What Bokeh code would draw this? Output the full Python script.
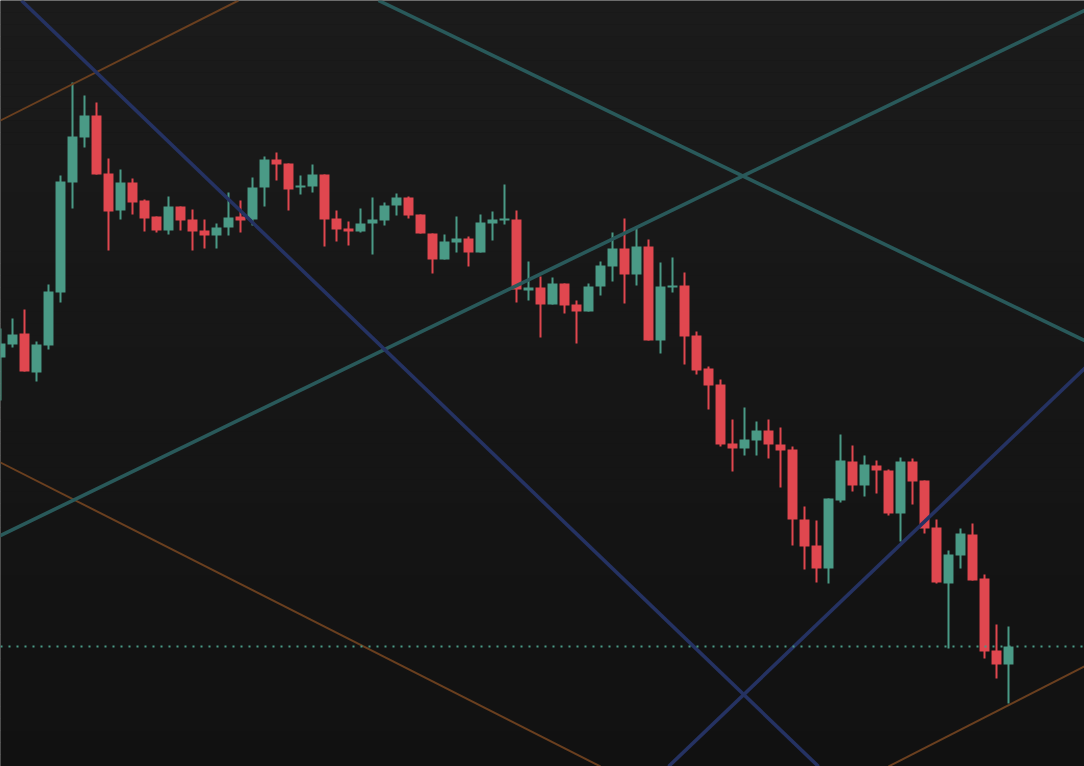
import numpy as np
from bokeh.plotting import figure
from bokeh.models import Range1d, Slope, Span, ColumnDataSource
from bokeh.embed import file_html
from bokeh.resources import INLINE

# ---- data (candle index, OHLC) ----
opens = [64.3, 65.6, 66.7, 62.8, 65.5, 70.8, 81.8, 86.3, 88.5, 82.7,
         79.0, 81.8, 80.0, 78.4, 77.0, 79.4, 78.1, 77.0, 76.5, 77.3,
         78.4, 78.1, 81.3, 84.1, 83.7, 81.3, 81.4, 82.6, 78.2, 77.2,
         76.9, 77.7, 78.0, 79.5, 80.3, 78.6, 76.7, 74.1, 75.8, 76.2,
         74.8, 77.7, 78.0, 78.1, 71.0, 71.3, 69.6, 71.7, 69.6, 68.9,
         71.4, 73.4, 75.2, 72.6, 75.4, 66.0, 71.3, 71.5, 66.5, 63.2,
         61.6, 55.7, 55.2, 56.0, 57.0, 55.6, 55.1, 48.1, 45.5, 43.2,
         50.0, 53.9, 51.5, 53.5, 53.0, 48.7, 53.9, 52.0, 47.3, 41.7,
         44.5, 46.6, 42.2, 35.0, 33.6]
highs = [67.2, 68.2, 69.1, 65.9, 71.6, 82.5, 91.8, 90.5, 89.8, 84.2,
         83.1, 82.2, 80.1, 78.4, 80.4, 79.4, 79.1, 78.1, 77.7, 80.8,
         80.0, 82.3, 84.4, 84.8, 83.7, 82.5, 83.6, 82.6, 79.0, 77.9,
         79.2, 80.3, 79.8, 80.7, 80.4, 78.6, 76.7, 76.6, 78.4, 76.4,
         78.6, 78.9, 81.6, 79.0, 73.9, 72.4, 72.3, 71.7, 70.0, 71.7,
         73.9, 76.8, 78.2, 77.4, 76.1, 73.8, 74.3, 72.8, 66.9, 63.4,
         62.1, 58.1, 59.3, 57.9, 58.1, 57.3, 55.4, 49.4, 48.0, 50.2,
         56.6, 55.5, 54.5, 54.0, 53.1, 54.3, 54.2, 52.0, 48.1, 45.0,
         47.2, 47.7, 42.6, 37.6, 37.4]
lows = [60.0, 65.3, 62.9, 61.9, 65.1, 69.8, 79.2, 85.3, 82.6, 75.0,
        78.1, 78.6, 76.9, 76.8, 76.6, 77.0, 75.0, 75.2, 75.2, 76.5,
        76.8, 77.5, 79.4, 82.0, 79.0, 80.6, 80.8, 75.4, 75.9, 75.5,
        76.8, 74.6, 77.5, 78.5, 78.2, 76.7, 72.7, 74.1, 74.8, 73.4,
        74.8, 76.0, 77.6, 69.8, 70.0, 66.3, 69.6, 68.7, 65.7, 68.9,
        70.5, 71.9, 69.7, 71.5, 66.0, 64.7, 70.8, 63.6, 62.6, 59.1,
        55.4, 52.9, 54.5, 54.5, 54.2, 51.3, 45.5, 43.1, 41.8, 41.7,
        49.8, 50.9, 50.4, 50.7, 48.5, 45.9, 49.6, 46.7, 41.7, 35.2,
        43.2, 42.0, 34.2, 32.2, 29.7]
closes = [65.7, 66.6, 62.9, 65.6, 70.9, 81.9, 86.4, 88.5, 82.6, 78.9,
          81.8, 79.8, 78.2, 77.0, 79.4, 78.0, 76.9, 76.5, 77.3, 78.3,
          78.0, 81.3, 84.1, 83.6, 81.1, 81.5, 82.6, 78.1, 77.1, 76.9,
          77.7, 78.1, 79.5, 80.3, 78.5, 76.7, 74.1, 75.9, 76.2, 74.8,
          77.8, 78.1, 78.2, 71.1, 71.3, 69.6, 71.7, 69.5, 68.9, 71.4,
          73.5, 75.2, 72.6, 75.4, 66.0, 71.4, 71.5, 66.4, 63.0, 61.5,
          55.6, 55.2, 56.1, 57.0, 55.6, 55.0, 48.1, 45.4, 43.2, 50.2,
          54.0, 51.5, 53.6, 53.0, 48.7, 53.9, 51.9, 47.2, 41.8, 44.6,
          46.7, 42.0, 34.9, 33.6, 35.4]

# trend lines: (index1, price1, index2, price2)
navy_lines = [(1.75, 100.0, 68.17, 23.4), (55.67, 23.4, 90.33, 63.2)]
teal_lines = [(31.5, 100.0, 90.33, 66.0), (0.0, 46.5, 90.33, 99.0)]
brown_lines = [(0.0, 88.0, 19.83, 100.0), (0.0, 53.8, 50.0, 23.4), (74.0, 23.4, 90.33, 33.4)]

UP = "#4a9a86"
DOWN = "#e0474f"

W, H = 1084, 766
x_lo, x_hi = 0.0, 90.333
y_lo, y_hi = 23.4, 100.0

p = figure(width=W, height=H, output_backend="svg", toolbar_location=None,
           x_range=Range1d(x_lo, x_hi), y_range=Range1d(y_lo, y_hi),
           x_axis_location=None, y_axis_location=None, min_border=0)
p.grid.visible = False
p.outline_line_color = None
p.background_fill_color = "#161616"
p.border_fill_color = "#161616"

# background vertical gradient
n = 64
edges = np.linspace(y_lo, y_hi, n + 1)
top_c = np.array([0x1b, 0x1b, 0x1b])
bot_c = np.array([0x11, 0x11, 0x11])
cols = []
for i in range(n):
    t = (i + 0.5) / n
    c = (bot_c + (top_c - bot_c) * t).round().astype(int)
    cols.append("#%02x%02x%02x" % tuple(c))
p.quad(left=x_lo - 5, right=x_hi + 5, bottom=edges[:-1], top=edges[1:],
       fill_color=cols, line_color=None)

def add_lines(lines, color, width):
    for (x1, y1, x2, y2) in lines:
        g = (y2 - y1) / (x2 - x1)
        b = y1 - g * x1
        p.add_layout(Slope(gradient=g, y_intercept=b, line_color=color, line_width=width))

add_lines(brown_lines, "#6a3f1f", 2)
add_lines(teal_lines, "#29595a", 3.6)
add_lines(navy_lines, "#253262", 3.6)

idx = np.arange(len(opens))
o = np.array(opens); c = np.array(closes)
colors = [UP if cc >= oo else DOWN for oo, cc in zip(o, c)]
src = ColumnDataSource(dict(x=idx, o=o, c=c, h=highs, l=lows,
                            top=np.maximum(o, c), bot=np.minimum(o, c), col=colors))
p.segment(x0="x", x1="x", y0="l", y1="h", line_color="col", line_width=2, source=src)
p.vbar(x="x", width=0.83, top="top", bottom="bot", fill_color="col", line_color=None, source=src)

p.add_layout(Span(location=closes[-1], dimension="width", line_color=UP,
                  line_width=2, line_dash="2 6"))

open("out.html", "w").write(file_html(p, INLINE))
